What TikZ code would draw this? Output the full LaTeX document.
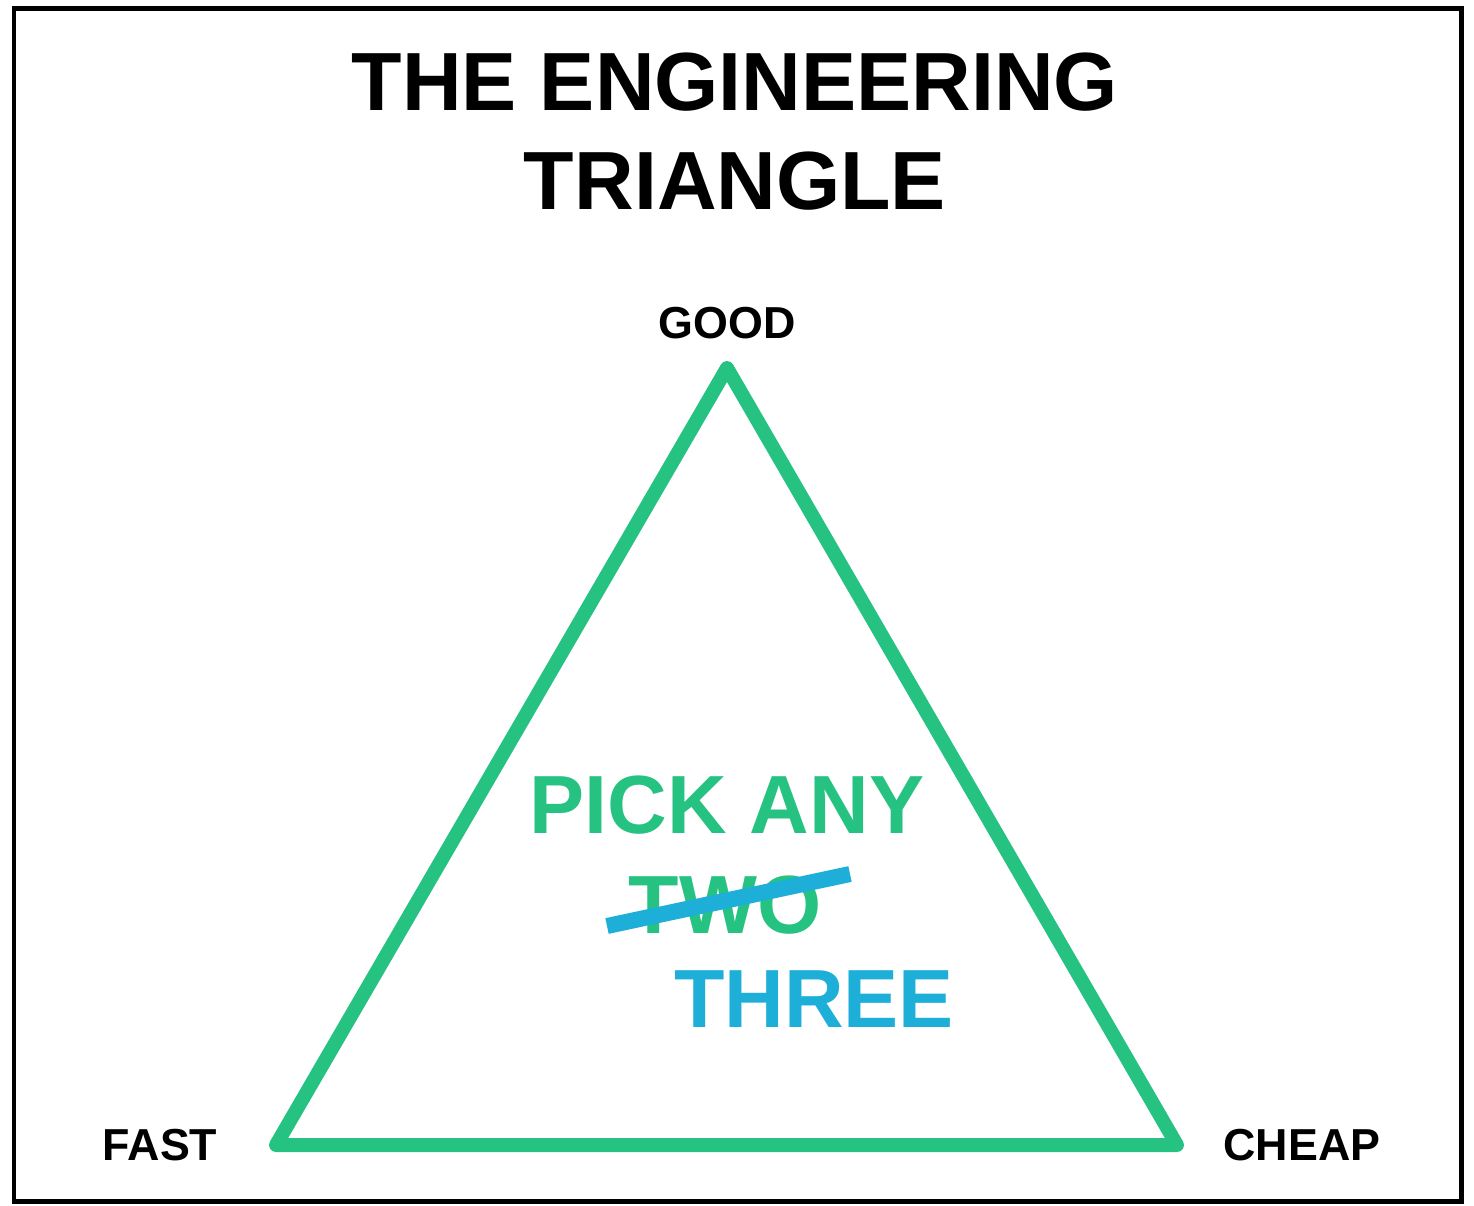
\documentclass[tikz,border=0pt]{standalone}
\usepackage{fontspec}
\setmainfont{Liberation Sans}
\usepackage{xcolor}
\usepackage{tikz}
\usetikzlibrary{positioning}
\definecolor{trianglecolor}{HTML}{26C281}
\definecolor{strikecolor}{HTML}{1EAFD9}

\begin{document}
\begin{tikzpicture}[
  x=0.02cm, y=-0.02cm,
  title/.style={font=\fontsize{47}{56}\selectfont\bfseries, align=center, inner sep=0pt},
  corner/.style={font=\fontsize{25.5}{28}\selectfont\bfseries, inner sep=0pt, anchor=base},
  slogan/.style={font=\fontsize{47}{56}\selectfont\bfseries, inner sep=0pt, anchor=base},
  edge/.style={draw=trianglecolor, line width=0.28cm, line join=round, line cap=round},
]
\useasboundingbox (0,0) rectangle (1474,1205);
\draw[line width=0.1cm] (14,8) rectangle (1461,1201);

\node[title, anchor=base] (T1) at (735,110) {THE ENGINEERING};
\node[title, anchor=base] (T2) at (735,209) {TRIANGLE};

\coordinate (G) at (727,368);
\coordinate (F) at (276,1145);
\coordinate (C) at (1177,1145);
\draw[edge] (G) -- (F) -- (C) -- cycle;

\node[corner] (good)  at (727,338)  {GOOD};
\node[corner] (fast)  at (160,1160) {FAST};
\node[corner] (cheap) at (1302,1160) {CHEAP};

\node[slogan, text=trianglecolor] (pick)  at (727,833) {PICK ANY};
\node[slogan, text=trianglecolor] (two)   at (725,933) {TWO};
\node[slogan, text=strikecolor]   (three) at (814,1027) {THREE};

% strike-through of TWO
\coordinate (s1) at (607,926);
\coordinate (s2) at (850,874);
\draw[strikecolor, line width=0.32cm] (s1) -- (s2);
\end{tikzpicture}
\end{document}
